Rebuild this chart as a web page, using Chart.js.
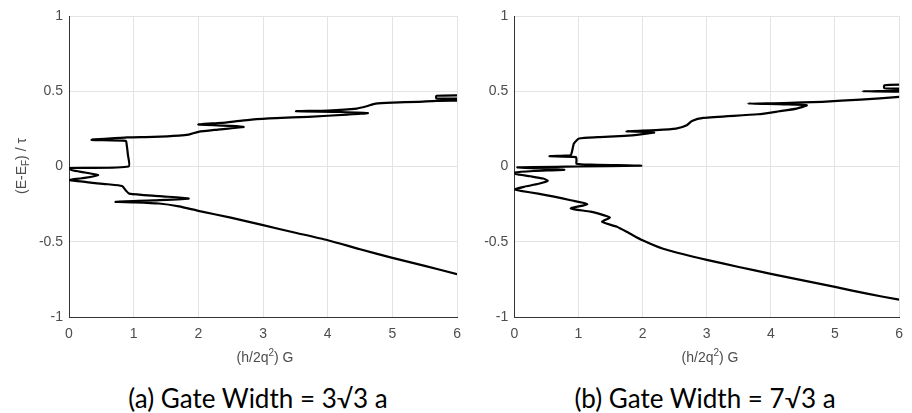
<!DOCTYPE html>
<html>
<head>
<meta charset="utf-8">
<script src="https://cdn.jsdelivr.net/npm/chart.js@4/dist/chart.umd.min.js"></script>
<style>
  body { margin: 0; background: #ffffff; width: 912px; height: 413px; position: relative; overflow: hidden; }
  .panel { position: absolute; top: 0; height: 380px; }
  .caption { position: absolute; top: 383px; font-family: Lato, "Open Sans", sans-serif; font-size: 26px; line-height: 30px; color: #000; text-align: center; width: 320px; }
</style>
</head>
<body>
<div class="panel" style="left:0px;width:470px;"><canvas id="chartA"></canvas></div>
<div class="panel" style="left:470px;width:442px;"><canvas id="chartB"></canvas></div>
<div class="caption" id="captionA" style="left:98px;">(a) Gate Width = 3√3 a</div>
<div class="caption" id="captionB" style="left:545px;">(b) Gate Width = 7√3 a</div>
<script>
// ---- data ----
const xTicks = [0, 1, 2, 3, 4, 5, 6];
const yTicks = [-1, -0.5, 0, 0.5, 1];

// panel (a) gate width 3√3 a : conductance (x) against energy (y)
const energyA = [
    -0.715, -0.66, -0.607, -0.55, -0.49, -0.44, -0.39, -0.34, -0.295, -0.265, -0.246, -0.238, -0.235,
    -0.225, -0.213, -0.197, -0.18, -0.16, -0.13, -0.118, -0.109, -0.095, -0.09, -0.078, -0.058, -0.04,
    -0.025, -0.01, 0.0, 0.08, 0.15, 0.17, 0.177, 0.185, 0.193, 0.197, 0.205, 0.212, 0.23, 0.245,
    0.256, 0.263, 0.27, 0.279, 0.29, 0.30, 0.312, 0.322, 0.33, 0.345, 0.355, 0.362, 0.367, 0.372,
    0.385, 0.40, 0.418, 0.425, 0.43, 0.436, 0.44, 0.45, 0.452, 0.47, 0.473
];
const conductanceA = [
    6.0, 5.5, 5.0, 4.5, 4.0, 3.5, 3.0, 2.5, 2.0, 1.7, 1.39, 1.0, 0.72,
    1.3, 1.85, 1.4, 0.93, 0.88, 0.82, 0.6, 0.36, 0.1, 0.0, 0.2, 0.45, 0.25,
    0.05, 0.0, 0.92, 0.91, 0.89, 0.88, 0.35, 0.6, 0.9, 1.3, 1.7, 1.85, 2.0, 2.3,
    2.55, 2.7, 2.5, 2.0, 2.35, 2.57, 2.82, 3.2, 3.7, 4.3, 4.62, 4.2, 3.51, 4.0,
    4.45, 4.6, 4.74, 5.0, 5.4, 5.68, 6.3, 6.3, 5.68, 5.68, 6.3
];

// panel (b) gate width 7√3 a
const energyB = [
    -0.885, -0.845, -0.80, -0.757, -0.713, -0.668, -0.62, -0.59, -0.545, -0.49, -0.445, -0.40, -0.368,
    -0.339, -0.323, -0.30, -0.279, -0.25, -0.224, -0.20, -0.18, -0.162, -0.153, -0.135, -0.115, -0.095,
    -0.08, -0.065, -0.05, -0.04, -0.03, -0.022, -0.013, -0.006, 0.0, 0.005, 0.012, 0.018, 0.04, 0.062,
    0.068, 0.072, 0.076, 0.1, 0.153, 0.186, 0.195, 0.203, 0.215, 0.226, 0.234, 0.242, 0.252, 0.274,
    0.303, 0.323, 0.347, 0.367, 0.385, 0.407, 0.413, 0.418, 0.422, 0.43, 0.445, 0.462, 0.475, 0.495,
    0.50, 0.505, 0.515, 0.52, 0.54, 0.545
];
const conductanceB = [
    6.0, 5.5, 5.0, 4.5, 4.0, 3.5, 3.0, 2.7, 2.31, 2.0, 1.8, 1.6, 1.37,
    1.49, 1.39, 1.19, 0.88, 1.14, 0.88, 0.62, 0.37, 0.1, 0.0, 0.15, 0.38, 0.52,
    0.45, 0.25, 0.02, 0.0, 0.3, 0.78, 0.4, 0.05, 1.0, 1.98, 1.2, 0.97, 0.97, 0.96,
    0.55, 0.8, 0.88, 0.9, 0.93, 1.01, 1.3, 1.72, 2.0, 2.18, 1.75, 2.2, 2.52, 2.69,
    2.77, 2.95, 3.8, 4.13, 4.4, 4.56, 4.2, 3.64, 4.2, 4.8, 5.4, 6.0, 6.3, 6.3,
    5.43, 6.3, 6.3, 5.77, 5.77, 6.3
];

const TICK_FONT = { family: "'Liberation Sans', Arial, sans-serif", size: 14 };
const TICK_COLOR = "#4d4d4d";
const GRID_COLOR = "#e3e3e3";
const AXIS_COLOR = "#333333";

// draws a title made of runs, some of them lowered or raised
function richTitlePlugin(items) {
    return {
        id: "richTitle",
        afterDraw(chart) {
            const ctx = chart.ctx;
            const base = "14px 'Liberation Sans', Arial, sans-serif";
            const small = "10px 'Liberation Sans', Arial, sans-serif";
            items.forEach((item) => {
                ctx.save();
                ctx.fillStyle = TICK_COLOR;
                ctx.textBaseline = "middle";
                ctx.textAlign = "left";
                let total = 0;
                item.runs.forEach((r) => {
                    ctx.font = r.shift ? small : base;
                    total += ctx.measureText(r.text).width;
                });
                ctx.translate(item.x, item.y);
                if (item.rotate) {
                    ctx.rotate(-Math.PI / 2);
                }
                let pos = -total / 2;
                item.runs.forEach((r) => {
                    ctx.font = r.shift ? small : base;
                    ctx.fillText(r.text, pos, r.shift || 0);
                    pos += ctx.measureText(r.text).width;
                });
                ctx.restore();
            });
        }
    };
}

function makePoints(xs, ys) {
    return xs.map((x, i) => ({ x: x, y: ys[i] }));
}

function buildChart(canvasId, xs, ys, yAxisWidth, rightPad, titles) {
    return new Chart(document.getElementById(canvasId), {
        type: "scatter",
        data: {
            datasets: [{
                data: makePoints(xs, ys),
                showLine: true,
                borderColor: "#000000",
                borderWidth: 2.2,
                pointRadius: 0,
                tension: 0.2
            }]
        },
        options: {
            responsive: true,
            maintainAspectRatio: false,
            animation: false,
            layout: { padding: { top: 16, right: rightPad, left: 0, bottom: 0 } },
            plugins: {
                legend: { display: false },
                tooltip: { enabled: false }
            },
            scales: {
                x: {
                    type: "linear",
                    min: 0,
                    max: 6,
                    afterBuildTicks: (axis) => { axis.ticks = xTicks.map((v) => ({ value: v })); },
                    afterFit: (axis) => { axis.height = 63; },
                    ticks: { font: TICK_FONT, color: TICK_COLOR, padding: 9, maxRotation: 0 },
                    grid: { color: GRID_COLOR, drawTicks: false, lineWidth: 1 },
                    border: { color: AXIS_COLOR, width: 1 }
                },
                y: {
                    type: "linear",
                    min: -1,
                    max: 1,
                    afterBuildTicks: (axis) => { axis.ticks = yTicks.map((v) => ({ value: v })); },
                    afterFit: (axis) => { axis.width = yAxisWidth; },
                    ticks: { font: TICK_FONT, color: TICK_COLOR, padding: 6, callback: (v) => String(v) },
                    grid: { color: GRID_COLOR, drawTicks: false, lineWidth: 1 },
                    border: { color: AXIS_COLOR, width: 1 }
                }
            }
        },
        plugins: [richTitlePlugin(titles)]
    });
}

const xTitleRuns = [
    { text: "(h/2q" }, { text: "2", shift: -5 }, { text: ") G" }
];
const yTitleRuns = [
    { text: "(E-E" }, { text: "F", shift: 4 }, { text: ") / \u03C4" }
];

buildChart("chartA", conductanceA, energyA, 69, 9.4, [
    { x: 265, y: 358, runs: xTitleRuns },
    { x: 22, y: 166, rotate: true, runs: yTitleRuns }
]);
buildChart("chartB", conductanceB, energyB, 44.3, 6.7, [
    { x: 240, y: 358, runs: xTitleRuns }
]);
</script>
</body>
</html>
